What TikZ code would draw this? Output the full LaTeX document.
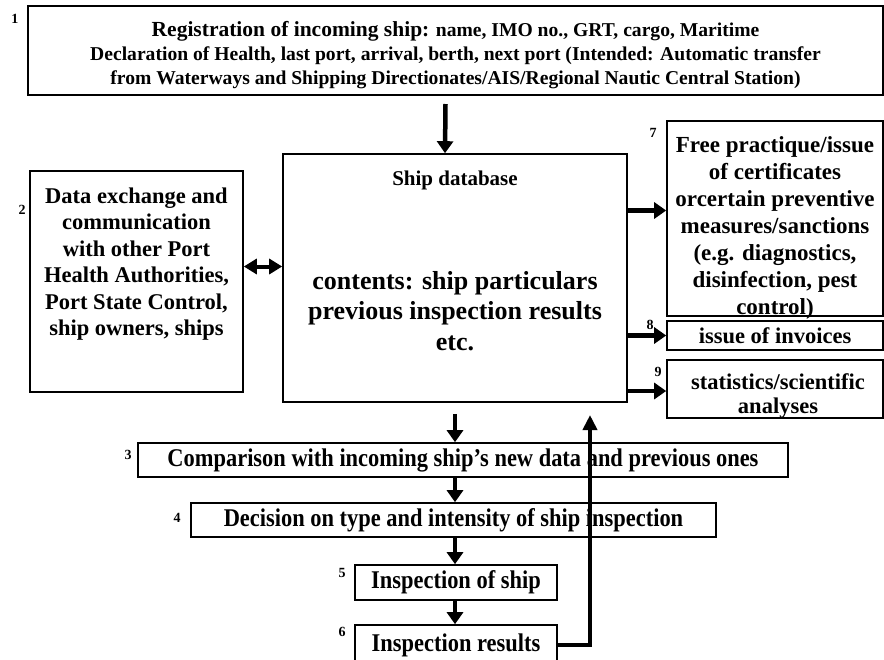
\documentclass[tikz,border=0pt]{standalone}
\usepackage{fontspec}
\setmainfont{Liberation Serif}
\newfontfamily\narrowfont[FakeStretch=0.88]{Liberation Serif}
\usetikzlibrary{arrows.meta}

\tikzset{
  box/.style={draw, line width=1.6pt, inner sep=0pt, align=center},
  txt/.style={align=center, inner sep=0pt},
  arr/.style={line width=4.5pt, -{Triangle[width=16pt,length=12pt]}},
  dblarr/.style={line width=4pt, {Triangle[width=15pt,length=13pt]}-{Triangle[width=15pt,length=13pt]}},
  backarr/.style={line width=4.5pt, -{Triangle[width=14pt,length=15pt]}},
  num/.style={font=\bfseries\fontsize{14}{14}\selectfont, inner sep=0pt},
  big/.style={font=\bfseries\fontsize{22.5}{26.5}\selectfont},
  narrow/.style={font=\narrowfont\bfseries\fontsize{25.5}{27}\selectfont},
}

\begin{document}
\begin{tikzpicture}[x=1pt,y=-1pt]
\useasboundingbox (0,0) rectangle (884,659);

% top: registration
\node[box, line width=2pt, minimum width=855pt, minimum height=89pt] (reg) at (455.5,50.5) {};
\node[txt, font=\bfseries\fontsize{19.6}{24}\selectfont] (regtext) at (455.5,55)
  {{\fontsize{21.5}{24}\selectfont Registration of incoming ship:} name, IMO no., GRT, cargo, Maritime\\
   Declaration of Health, last port, arrival, berth, next port (Intended: Automatic transfer\\
   from Waterways and Shipping Directionates/AIS/Regional Nautic Central Station)};

% database in the middle
\node[box, minimum width=344pt, minimum height=248pt] (db) at (455,278) {};
\node[txt, font=\bfseries\fontsize{21}{25}\selectfont] (dbhead) at (455,180) {Ship database};
\node[txt, font=\bfseries\fontsize{26}{30.5}\selectfont] (dbbody) at (455,311)
  {contents: ship particulars\\previous inspection results\\etc.};

% left: data exchange
\node[box, minimum width=213pt, minimum height=221pt] (comm) at (136.5,281.5) {};
\node[txt, big] (commtext) at (136.5,264)
  {Data exchange and\\communication\\with other Port\\Health Authorities,\\Port State Control,\\ship owners, ships};

% right column
\node[box, minimum width=216pt, minimum height=195pt] (fp) at (775,218.5) {};
\node[txt, font=\bfseries\fontsize{23}{27}\selectfont] (fptext) at (775,227.5)
  {Free practique/issue\\of certificates\\orcertain preventive\\measures/sanctions\\(e.g. diagnostics,\\disinfection, pest\\control)};
\node[box, big, minimum width=216pt, minimum height=29pt] (inv) at (775,335.5) {issue of invoices};
\node[box, minimum width=216pt, minimum height=58pt] (stat) at (775,389) {};
\node[txt, font=\bfseries\fontsize{22.5}{24}\selectfont] (stattext) at (778,396)
  {statistics/scientific\\analyses};

% lower chain
\node[box, narrow, minimum width=650pt, minimum height=34pt] (cmp) at (463,460)
  {Comparison with incoming ship’s new data and previous ones};
\node[box, narrow, minimum width=525pt, minimum height=34pt] (dec) at (453.5,520)
  {Decision on type and intensity of ship inspection};
\node[box, narrow, minimum width=202pt, minimum height=35pt] (insp) at (456,582.5)
  {Inspection of ship};
\node[box, narrow, minimum width=202pt, minimum height=40pt] (res) at (456,645)
  {Inspection results};

% numbers
\foreach \n/\x/\y in {1/15/19, 2/22/210, 3/128/455, 4/177/518, 5/342/573, 6/342/632, 7/653/133, 8/650/325, 9/658/372}
  \node[num] (n\n) at (\x,\y) {\n};

% connectors
\draw[arr] ([xshift=-10pt,yshift=-8pt]reg.south) -- ([xshift=-10pt]db.north);
\draw[dblarr] ([yshift=15pt]comm.east) -- ([yshift=15pt]comm.east -| db.west);
\draw[arr] ([yshift=8pt]fp.west -| db.east) -- ([yshift=8pt]fp.west);
\draw[arr] (inv.west -| db.east) -- (inv.west);
\draw[arr] ([yshift=-2pt]stat.west -| db.east) -- ([yshift=-2pt]stat.west);
\draw[arr] ([yshift=-11pt]db.south) -- (db.south |- cmp.north);
\foreach \a/\b in {cmp/dec, dec/insp, insp/res}
  \draw[arr] (db.south |- \a.south) -- (db.south |- \b.north);
\coordinate (fbtip) at (590,415);
\draw[backarr] (res.east) -| (fbtip);
\end{tikzpicture}
\end{document}
